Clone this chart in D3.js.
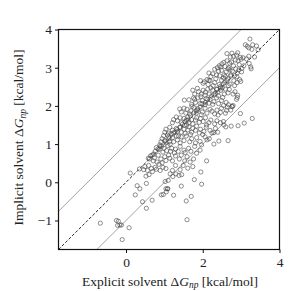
<!DOCTYPE html>
<html>
<head>
<meta charset="utf-8">
<script src="https://cdn.jsdelivr.net/npm/d3@7"></script>
<style>
  html, body { margin: 0; padding: 0; background: #fff; }
  svg { display: block; }
  text { font-family: "Liberation Serif", "DejaVu Serif", serif; fill: #222; }
</style>
</head>
<body>
<svg id="chart" width="291" height="291"></svg>
<script>
// ── Data: explicit solvent ΔG (x) vs implicit solvent ΔG (y) ──
const explicitX = [
  3.23,3.11,3.16,3.30,3.40,3.44,3.28,3.20,
  2.88,2.91,2.80,2.72,2.63,2.76,2.98,3.05,3.20,3.35,
  2.63,2.55,2.50,2.43,2.58,2.70,2.85,2.92,3.00,3.14,3.21,3.07,3.25,3.26,2.95,2.80,2.68,2.75,2.47,2.38,
  2.31,2.26,2.41,2.49,2.56,2.61,2.71,2.77,2.86,2.90,2.94,3.01,2.83,2.73,2.59,2.44,2.36,2.21,2.16,2.89,3.02,2.66,
  2.04,2.11,2.19,2.31,2.34,2.43,2.49,2.57,2.66,2.71,2.81,2.89,2.96,2.67,2.46,2.27,2.14,2.01,1.94,2.54,2.83,2.99,
  1.86,1.89,1.96,2.01,2.07,2.13,2.17,2.26,2.29,2.36,2.39,2.47,2.56,2.59,2.66,2.69,2.79,2.84,2.91,2.41,2.21,1.79,1.74,2.06,2.51,
  1.64,1.71,1.76,1.81,1.87,1.93,1.99,2.06,2.09,2.16,2.19,2.26,2.29,2.36,2.41,2.49,2.54,2.61,2.67,2.76,2.79,2.88,2.90,1.52,2.52,1.95,1.79,2.16,
  1.44,1.51,1.56,1.59,1.66,1.69,1.77,1.83,1.87,1.96,1.99,2.06,2.11,2.19,2.24,2.31,2.37,2.46,2.49,2.59,2.64,2.73,2.77,2.62,2.40,1.40,1.72,
  1.21,1.24,1.31,1.34,1.41,1.44,1.51,1.54,1.61,1.64,1.71,1.74,1.81,1.84,1.91,1.94,2.01,2.07,2.16,2.21,2.31,2.37,2.46,2.54,1.58,2.10,
  1.01,1.04,1.11,1.14,1.21,1.24,1.31,1.34,1.41,1.44,1.51,1.54,1.61,1.64,1.71,1.74,1.81,1.84,1.91,1.94,2.03,2.09,2.19,2.24,2.33,2.39,2.00,1.68,
  0.91,0.94,1.01,1.04,1.11,1.14,1.21,1.24,1.31,1.34,1.41,1.44,1.51,1.57,1.66,1.71,1.81,1.84,1.93,1.97,2.06,2.11,1.08,0.98,
  0.76,0.79,0.86,0.89,0.96,0.99,1.06,1.09,1.16,1.19,1.26,1.29,1.36,1.41,1.51,1.54,1.63,1.69,1.79,1.84,1.93,1.15,0.88,
  0.61,0.64,0.71,0.74,0.81,0.84,0.91,0.94,1.01,1.04,1.11,1.14,1.21,1.29,1.39,1.44,1.53,1.59,1.76,1.67,0.72,2.10,
  0.46,0.49,0.56,0.59,0.66,0.69,0.76,0.79,0.86,0.89,0.96,1.04,1.21,1.29,1.41,1.49,1.61,1.74,0.35,1.95,
  0.11,0.52,0.60,1.15,1.22,1.30,1.38,1.45,1.78,1.10,1.02,
  0.29,0.36,0.24,0.53,0.43,0.53,0.68,0.97,0.92,1.04,1.09,1.05,1.24,1.44,1.57,1.70,1.59,1.97,1.08,
  -0.67,-0.25,-0.20,-0.22,-0.16,-0.12,0.08,-0.10,
  2.17,2.29,2.29,2.42,2.66,2.74,2.92,2.98,3.08,3.29,2.60,2.55,
  1.02,1.12,1.18,1.27,1.33,1.41,1.47,1.53,1.62,1.68,1.77,1.83,1.93,1.98,2.07,2.13,2.23,2.33,2.37,2.46,
  2.53,2.63,2.73,0.83,0.93,0.68,0.58,1.37,1.57,1.87
];
const implicitY = [
  3.75,3.60,3.56,3.60,3.57,3.47,3.48,3.52,
  3.33,3.39,3.30,3.28,3.37,3.38,3.27,3.26,3.30,3.28,
  3.18,3.14,3.10,3.05,3.03,3.12,3.20,3.18,3.22,3.23,3.11,3.05,3.02,2.97,3.08,3.05,3.00,3.15,3.02,3.00,
  2.96,2.84,2.91,2.93,2.81,2.89,2.94,2.91,2.97,2.86,2.94,2.89,2.79,2.81,2.77,2.79,2.81,2.77,2.86,2.76,2.98,2.97,
  2.63,2.69,2.66,2.61,2.71,2.56,2.67,2.61,2.71,2.57,2.66,2.61,2.69,2.53,2.51,2.53,2.56,2.59,2.66,2.73,2.53,2.64,
  2.46,2.37,2.31,2.41,2.36,2.44,2.31,2.41,2.29,2.44,2.36,2.41,2.31,2.44,2.34,2.43,2.31,2.37,2.28,2.26,2.47,2.31,2.41,2.28,2.47,
  2.16,2.04,2.21,2.09,2.21,2.06,2.14,2.03,2.19,2.07,2.17,2.04,2.11,2.21,2.06,2.14,2.01,2.09,2.03,1.99,2.01,2.17,2.22,2.15,2.22,2.24,2.17,2.67,
  1.84,1.94,1.81,1.91,1.79,1.87,1.96,1.81,1.89,1.77,1.84,1.94,1.81,1.91,1.86,1.79,1.89,1.83,1.94,1.81,1.97,1.89,1.98,1.88,1.76,1.92,1.99,
  1.56,1.64,1.71,1.61,1.69,1.56,1.67,1.59,1.71,1.56,1.64,1.53,1.63,1.69,1.57,1.67,1.59,1.69,1.56,1.63,1.53,1.61,1.56,1.59,1.50,1.50,
  1.31,1.39,1.29,1.44,1.36,1.29,1.41,1.33,1.44,1.31,1.39,1.28,1.37,1.45,1.31,1.41,1.36,1.47,1.29,1.39,1.33,1.44,1.36,1.29,1.41,1.31,1.25,1.25,
  1.06,1.14,1.09,1.03,1.19,1.07,1.17,1.06,1.21,1.11,1.03,1.19,1.09,1.21,1.06,1.14,1.03,1.17,1.07,0.98,1.19,1.11,1.24,1.22,
  0.81,0.91,0.86,0.94,0.79,0.89,0.83,0.96,0.81,0.89,0.77,0.87,0.81,0.94,0.84,0.78,0.89,0.81,0.94,0.76,0.84,0.99,0.98,
  0.61,0.69,0.56,0.64,0.53,0.71,0.61,0.51,0.67,0.57,0.71,0.63,0.56,0.69,0.61,0.71,0.56,0.67,0.61,0.53,0.74,0.56,
  0.33,0.41,0.31,0.44,0.36,0.28,0.39,0.34,0.47,0.31,0.39,0.36,0.31,0.44,0.33,0.44,0.37,0.41,0.35,0.27,
  0.24,0.16,0.20,0.22,0.15,0.22,0.18,0.20,0.07,0.05,0.02,
  -0.09,-0.17,-0.33,-0.03,-0.51,-0.68,-0.47,-0.32,-0.33,-0.17,-0.17,-0.25,-0.34,-0.10,-0.49,-0.37,-0.98,-0.05,-0.17,
  -1.07,-1.00,-1.02,-1.13,-1.12,-1.12,-1.19,-1.50,
  1.14,1.00,1.30,1.08,1.09,1.47,1.48,1.80,1.55,1.67,1.45,1.50,
  1.08,1.14,1.27,1.31,1.38,1.44,1.52,1.49,1.63,1.74,1.82,1.87,1.97,2.06,2.09,2.17,2.26,2.33,2.43,2.47,
  2.57,2.66,2.78,0.87,0.94,0.71,0.63,1.21,1.63,1.93
];
const xTicks = [0, 2, 4];
const yTicks = [-1, 0, 1, 2, 3, 4];
const domain = [-1.76, 4];
const bandOffsets = [-1, 1]; // thin lines at y = x ± 1

// ── Layout ──
const svg = d3.select('#chart');
const padL = 58.5, padR = 279.5, padT = 29.5, padB = 249.5;

const x = d3.scaleLinear().domain(domain).range([padL, padR]);
const y = d3.scaleLinear().domain(domain).range([padB, padT]);

const fmt = d => d < 0 ? '\u2212' + Math.abs(d) : String(d);

// clip region for the reference lines
svg.append('clipPath').attr('id', 'clip')
  .append('rect').attr('x', padL).attr('y', padT).attr('width', padR - padL).attr('height', padB - padT);

const plot = svg.append('g').attr('clip-path', 'url(#clip)');

// ± 1 kcal/mol lines
bandOffsets.forEach(o => {
  plot.append('line')
    .attr('x1', x(domain[0])).attr('y1', y(domain[0] + o))
    .attr('x2', x(domain[1])).attr('y2', y(domain[1] + o))
    .attr('stroke', '#666').attr('stroke-width', 0.6);
});

// y = x dashed
plot.append('line')
  .attr('x1', x(domain[0])).attr('y1', y(domain[0]))
  .attr('x2', x(domain[1])).attr('y2', y(domain[1]))
  .attr('stroke', '#111').attr('stroke-width', 0.9).attr('stroke-dasharray', '3,1.8');

// scatter points
const pts = explicitX.map((v, i) => [v, implicitY[i]]);
plot.selectAll('circle').data(pts).enter().append('circle')
  .attr('cx', d => x(d[0])).attr('cy', d => y(d[1])).attr('r', 2.1)
  .attr('fill', 'none').attr('stroke', '#444').attr('stroke-width', 0.6);

// ── Axes ──
const xAxis = svg.append('g').attr('transform', `translate(0,${padB})`)
  .call(d3.axisBottom(x).tickValues(xTicks).tickFormat(fmt).tickSizeOuter(0).tickSize(3.5).tickPadding(4));
const yAxis = svg.append('g').attr('transform', `translate(${padL},0)`)
  .call(d3.axisLeft(y).tickValues(yTicks).tickFormat(fmt).tickSizeOuter(0).tickSize(3.5).tickPadding(3));
[xAxis, yAxis].forEach(g => {
  g.select('.domain').remove();
  g.selectAll('line').attr('stroke', '#111').attr('stroke-width', 1);
  g.selectAll('text').attr('font-size', 13.5).attr('fill', '#222')
    .style('font-family', '"Liberation Serif", serif');
});

// frame
svg.append('rect').attr('x', padL).attr('y', padT).attr('width', padR - padL).attr('height', padB - padT)
  .attr('fill', 'none').attr('stroke', '#111').attr('stroke-width', 1.2);

// ── Axis labels ──
function axisLabel(t, prefix) {
  t.append('tspan').text(prefix + ' \u0394');
  t.append('tspan').attr('font-style', 'italic').text('G');
  t.append('tspan').attr('font-style', 'italic').attr('font-size', 9.5).attr('dy', 2.5).text('np');
  t.append('tspan').attr('dy', -2.5).text(' [kcal/mol]');
}
const xl = svg.append('text').attr('x', (padL + padR) / 2 + 1).attr('y', 285.5)
  .attr('text-anchor', 'middle').attr('font-size', 13.5);
axisLabel(xl, 'Explicit solvent');

const yl = svg.append('text').attr('transform', `translate(23,${(padT + padB) / 2 - 2}) rotate(-90)`)
  .attr('text-anchor', 'middle').attr('font-size', 13.5);
axisLabel(yl, 'Implicit solvent');
</script>
</body>
</html>
